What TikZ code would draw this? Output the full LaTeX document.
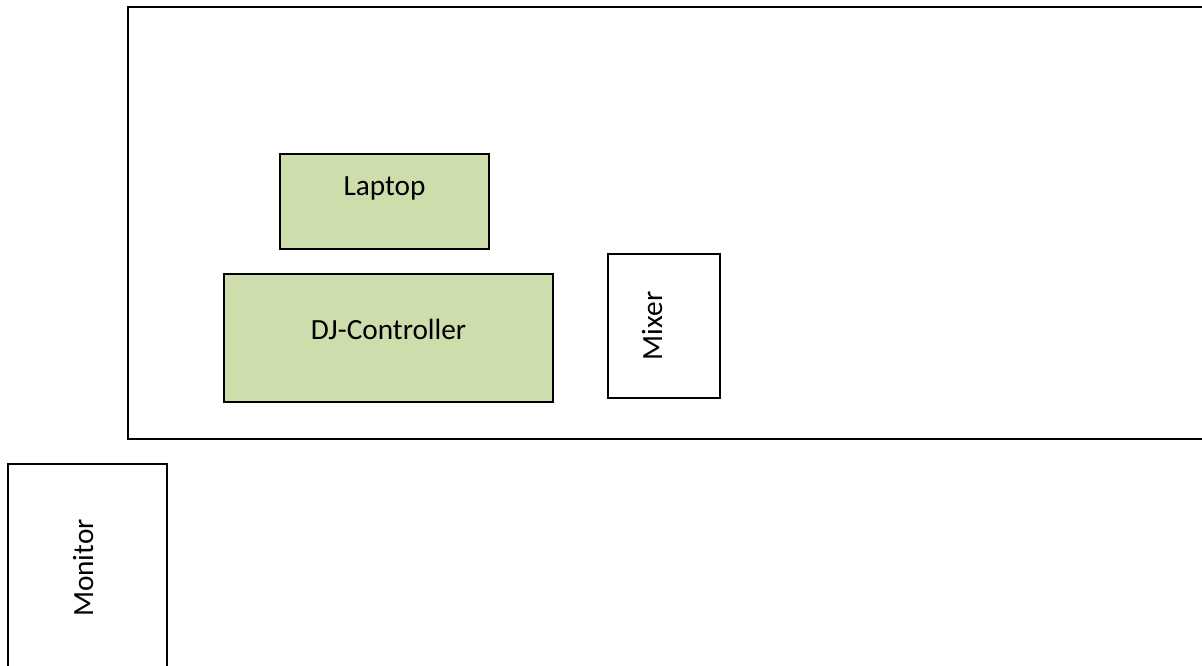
\documentclass[tikz,border=0pt]{standalone}
\usepackage{fontspec}
\setmainfont{Carlito}
\usepackage{tikz}
\definecolor{deskgreen}{RGB}{205,221,172}

\begin{document}
\begin{tikzpicture}[x=1pt, y=1pt,
  box/.style={draw=black, line width=1.2pt, inner sep=0pt, font=\fontsize{29.3}{35}\selectfont},
  gear/.style={box, fill=deskgreen}]
\clip (0,0) rectangle (1202,666);
\draw[line width=1.4pt] (1215,659) -- (128,659) -- (128,227) -- (1215,227);
\node[gear, minimum width=209, minimum height=95, text height=20, text depth=31] (laptop) at (384.5,464.5) {Laptop};
\node[gear, minimum width=329, minimum height=128, text height=20, text depth=16] (controller) at (388.5,328) {DJ-Controller};
\node[box, rotate=90, minimum width=144, minimum height=112, text height=20, text depth=24] (mixer) at (664,340) {Mixer};
\node[box, rotate=90, minimum width=208, minimum height=159, text height=20, text depth=9] (monitor) at (87.5,98) {Monitor};
\end{tikzpicture}
\end{document}
